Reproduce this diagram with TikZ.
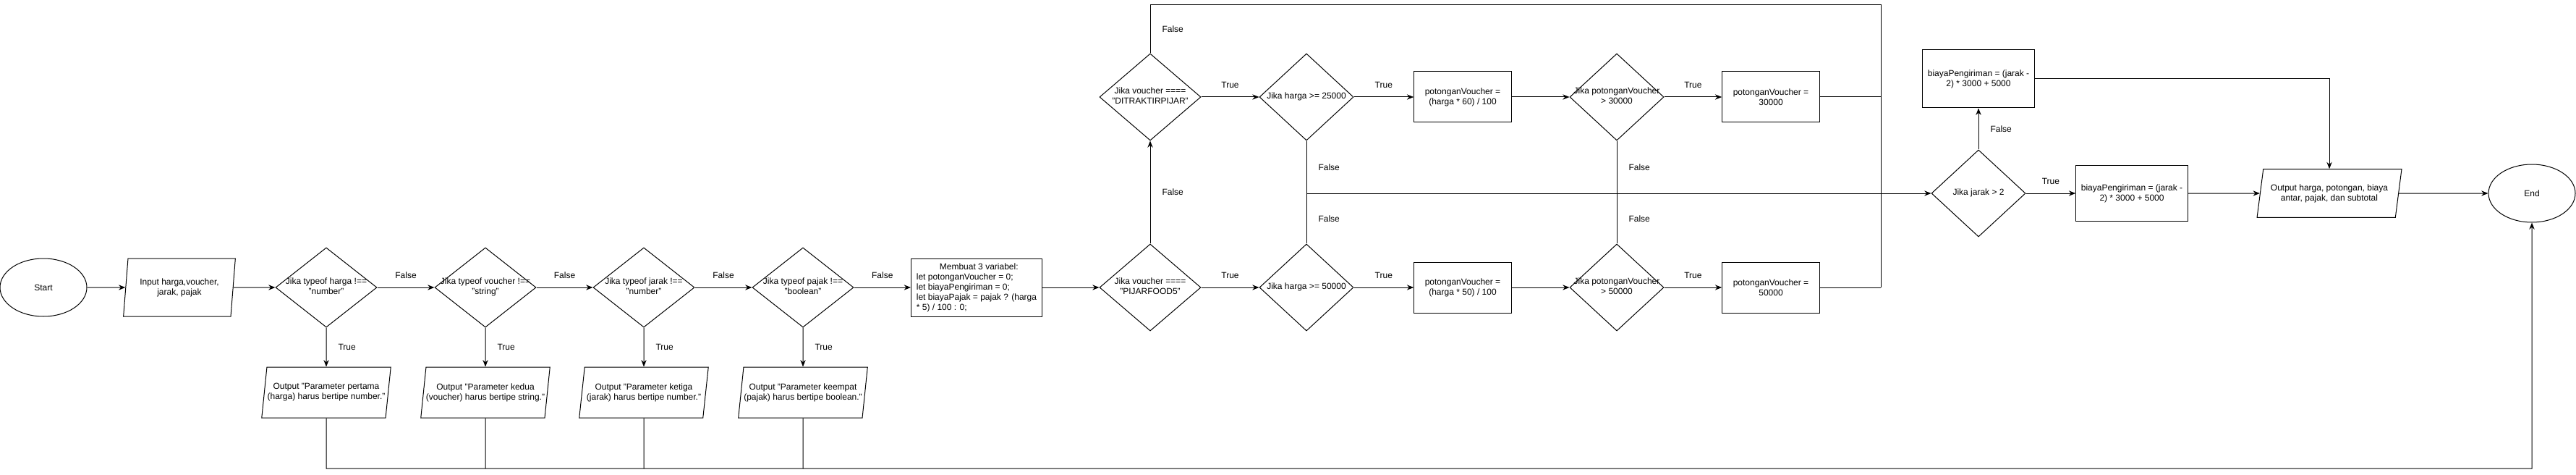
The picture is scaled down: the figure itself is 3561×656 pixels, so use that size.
\documentclass[tikz,border=0pt]{standalone}
\usepackage{fontspec}
\setmainfont{Liberation Sans}
\usetikzlibrary{shapes.geometric, arrows.meta, positioning}
\newcommand{\ctext}[1]{\makebox[0pt]{\begin{tabular}{@{}c@{}}#1\end{tabular}}}
\tikzset{
    terminal/.style={
        ellipse,
        draw=black,
        line width=0.75pt,
        minimum width=90pt,
        minimum height=60pt,
        font=\fontsize{9}{10.5}\selectfont
    },
    io/.style={
        trapezium,
        trapezium left angle=74,
        trapezium right angle=106,
        trapezium stretches=true,
        draw=black,
        line width=0.75pt,
        minimum width=134pt,
        minimum height=52.5pt,
        inner sep=0pt,
        align=center,
        font=\fontsize{9}{10.5}\selectfont
    },
    process/.style={
        rectangle,
        draw=black,
        line width=0.75pt,
        minimum width=101pt,
        minimum height=52.5pt,
        align=center,
        font=\fontsize{9}{10.5}\selectfont
    },
    decision/.style={
        diamond,
        draw=black,
        line width=0.75pt,
        inner sep=0pt,
        minimum width=97.5pt,
        minimum height=90pt,
        font=\fontsize{9}{10.5}\selectfont
    },
    flow/.style={
        draw=black,
        line width=0.75pt,
        -{Stealth[length=7pt, width=5.5pt]}
    },
    joint/.style={
        draw=black,
        line width=0.75pt
    },
    lbl/.style={
        inner sep=0pt,
        font=\fontsize{9}{10.5}\selectfont
    }
}
\begin{document}
\begin{tikzpicture}[x=0.75pt, y=-0.75pt]
\useasboundingbox (0,0) rectangle (3561,656);

% input and type checks
\node[terminal] (start) at (60,397) {Start};
\node[io, minimum width=117pt, minimum height=60pt, trapezium left angle=79, trapezium right angle=101] (input) at (248,397) {Input harga,voucher,\\jarak, pajak};
\node[decision, minimum width=105pt, minimum height=82.5pt] (cek1) at (451,397) {\ctext{Jika typeof harga !==\\"number"}};
\node[decision, minimum width=105pt, minimum height=82.5pt] (cek2) at (671,397) {\ctext{Jika typeof voucher !==\\"string"}};
\node[decision, minimum width=105pt, minimum height=82.5pt] (cek3) at (890,397) {\ctext{Jika typeof jarak !==\\"number"}};
\node[decision, minimum width=105pt, minimum height=82.5pt] (cek4) at (1110,397) {\ctext{Jika typeof pajak !==\\"boolean"}};

\node[io] (out1) at (451,542) {Output "Parameter pertama\\(harga) harus bertipe number."};
\node[io] (out2) at (671,542) {Output "Parameter kedua\\(voucher) harus bertipe string."};
\node[io] (out3) at (890,542) {Output "Parameter ketiga\\(jarak) harus bertipe number."};
\node[io] (out4) at (1110,542) {Output "Parameter keempat\\(pajak) harus bertipe boolean."};

\node[process, minimum width=135.75pt, minimum height=60pt, align=left] (init) at (1350,397) {\hspace*{24pt}Membuat 3 variabel:\\let potonganVoucher = 0;\\let biayaPengiriman = 0;\\let biayaPajak = pajak ? (harga\\* 5) / 100 : 0;};

% voucher branches
\node[decision, minimum width=105pt] (vpijar) at (1590,397) {\ctext{Jika voucher ====\\"PIJARFOOD5"}};
\node[decision, minimum width=105pt] (vtraktir) at (1590,134) {\ctext{Jika voucher ====\\"DITRAKTIRPIJAR"}};
\node[decision] (h25) at (1806,134) {\ctext{Jika harga >= 25000}};
\node[decision] (h50) at (1806,397) {\ctext{Jika harga >= 50000}};
\node[process] (pot60) at (2022,134) {potonganVoucher =\\(harga * 60) / 100};
\node[process] (pot50) at (2022,397) {potonganVoucher =\\(harga * 50) / 100};
\node[decision] (max30) at (2235,134) {\ctext{Jika potonganVoucher\\> 30000}};
\node[decision] (max50) at (2235,397) {\ctext{Jika potonganVoucher\\> 50000}};
\node[process] (set30) at (2448,134) {potonganVoucher =\\30000};
\node[process] (set50) at (2448,397) {potonganVoucher =\\50000};

% shipping and result
\node[decision] (jarak) at (2735,267) {\ctext{Jika jarak > 2}};
\node[process, minimum width=116pt, minimum height=58pt] (kirim1) at (2947,267) {biayaPengiriman = (jarak -\\2) * 3000 + 5000};
\node[process, minimum width=116pt, minimum height=60pt] (kirim2) at (2735,109) {biayaPengiriman = (jarak -\\2) * 3000 + 5000};
\node[io, minimum width=150pt, minimum height=50pt, trapezium left angle=73, trapezium right angle=107] (hasil) at (3220,267) {Output harga, potongan, biaya\\antar, pajak, dan subtotal};
\node[terminal] (finish) at (3500,267) {End};

\coordinate (bot) at (0,647);
\coordinate (mtop) at (2600,7);
\coordinate (mbot) at (2600,397);

\draw[flow] (start) -- (input);
\draw[flow] (input) -- (cek1);
\draw[flow] (cek1) -- node[lbl, above=9pt] {False} (cek2);
\draw[flow] (cek2) -- node[lbl, above=9pt] {False} (cek3);
\draw[flow] (cek3) -- node[lbl, above=9pt] {False} (cek4);
\draw[flow] (cek4) -- node[lbl, above=9pt] {False} (init);
\draw[flow] (cek1) -- node[lbl, right=12pt] {True} (out1);
\draw[flow] (cek2) -- node[lbl, right=12pt] {True} (out2);
\draw[flow] (cek3) -- node[lbl, right=12pt] {True} (out3);
\draw[flow] (cek4) -- node[lbl, right=12pt] {True} (out4);
\draw[flow] (out1) -- (out1 |- bot) -| (finish);
\draw[joint] (out2) -- (out2 |- bot);
\draw[joint] (out3) -- (out3 |- bot);
\draw[joint] (out4) -- (out4 |- bot);

\draw[flow] (init) -- (vpijar);
\draw[flow] (vpijar) -- node[lbl, above=9pt] {True} (h50);
\draw[flow] (vpijar) -- node[lbl, right=12pt] {False} (vtraktir);
\draw[flow] (vtraktir) -- node[lbl, above=9pt] {True} (h25);
\draw[joint] (vtraktir) |- node[lbl, pos=0.25, right=12pt] {False} (mtop) -- (mbot);
\draw[flow] (h25) -- node[lbl, above=9pt] {True} (pot60);
\draw[flow] (h50) -- node[lbl, above=9pt] {True} (pot50);
\draw[flow] (pot60) -- (max30);
\draw[flow] (pot50) -- (max50);
\draw[flow] (max30) -- node[lbl, above=9pt] {True} (set30);
\draw[flow] (max50) -- node[lbl, above=9pt] {True} (set50);
\draw[joint] (set30) -- (set30 -| mtop);
\draw[joint] (set50) -- (mbot);

\draw[flow] (h25) -- node[lbl, right=12pt] {False} (h25 |- jarak) -- (jarak);
\draw[joint] (h50) -- node[lbl, right=12pt] {False} (h50 |- jarak);
\draw[joint] (max30) -- node[lbl, right=12pt] {False} (max30 |- jarak);
\draw[joint] (max50) -- node[lbl, right=12pt] {False} (max50 |- jarak);

\draw[flow] (jarak) -- node[lbl, above=9pt] {True} (kirim1);
\draw[flow] (jarak) -- node[lbl, right=12pt] {False} (kirim2);
\draw[flow] (kirim1) -- (hasil);
\draw[flow] (kirim2) -| (hasil);
\draw[flow] (hasil) -- (finish);

\end{tikzpicture}
\end{document}
